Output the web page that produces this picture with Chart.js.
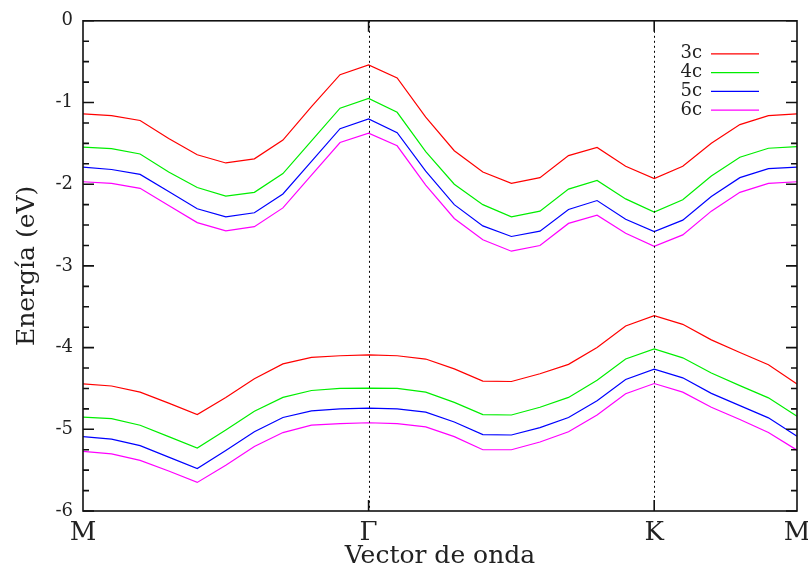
<!DOCTYPE html>
<html>
<head>
<meta charset="utf-8">
<script src="https://cdn.jsdelivr.net/npm/chart.js@4.4.0/dist/chart.umd.min.js"></script>
<style>
  html, body { margin: 0; padding: 0; background: #fff; }
  #wrap { width: 808px; height: 571px; }
</style>
</head>
<body>
<div id="wrap"><canvas id="bands"></canvas></div>
<script>
// k-path: M -> Γ -> K -> M, 26 points
const kLabels = ['M', '', '', '', '', '', '', '', '', '', 'Γ', '', '', '', '', '', '', '', '', '', 'K', '', '', '', '', 'M'];
const symIndex = [10, 20];

const bandNames = ['3c', '4c', '5c', '6c'];
const bandColors = ['#ff0000', '#00ee00', '#0000ff', '#ff00ff'];

// upper bands
const band3cHigh = [-1.14, -1.16, -1.22, -1.44, -1.64, -1.74, -1.69, -1.46, -1.05, -0.66, -0.54, -0.70, -1.18, -1.59, -1.85, -1.99, -1.92, -1.65, -1.55, -1.78, -1.93, -1.78, -1.50, -1.27, -1.16, -1.14];
const band4cHigh = [-1.545, -1.565, -1.63, -1.85, -2.04, -2.145, -2.10, -1.87, -1.47, -1.07, -0.95, -1.12, -1.60, -2.00, -2.25, -2.40, -2.33, -2.06, -1.955, -2.18, -2.34, -2.19, -1.90, -1.67, -1.56, -1.54];
const band5cHigh = [-1.79, -1.82, -1.88, -2.09, -2.30, -2.40, -2.35, -2.12, -1.72, -1.32, -1.20, -1.37, -1.84, -2.25, -2.51, -2.64, -2.575, -2.31, -2.20, -2.43, -2.58, -2.44, -2.15, -1.92, -1.81, -1.79];
const band6cHigh = [-1.97, -1.99, -2.05, -2.26, -2.47, -2.57, -2.52, -2.29, -1.89, -1.49, -1.375, -1.53, -2.01, -2.42, -2.68, -2.82, -2.75, -2.48, -2.38, -2.60, -2.76, -2.62, -2.33, -2.10, -1.99, -1.97];

// lower bands
const band3cLow = [-4.445, -4.47, -4.545, -4.68, -4.82, -4.61, -4.38, -4.20, -4.12, -4.10, -4.09, -4.10, -4.14, -4.26, -4.41, -4.415, -4.32, -4.205, -4.00, -3.735, -3.61, -3.715, -3.905, -4.06, -4.21, -4.445];
const band4cLow = [-4.85, -4.87, -4.95, -5.09, -5.23, -5.01, -4.78, -4.61, -4.525, -4.50, -4.495, -4.50, -4.545, -4.67, -4.82, -4.825, -4.73, -4.61, -4.40, -4.14, -4.015, -4.125, -4.31, -4.465, -4.615, -4.84];
const band5cLow = [-5.09, -5.12, -5.20, -5.34, -5.48, -5.26, -5.03, -4.855, -4.775, -4.75, -4.74, -4.75, -4.79, -4.91, -5.065, -5.07, -4.98, -4.855, -4.65, -4.39, -4.265, -4.37, -4.56, -4.71, -4.86, -5.085];
const band6cLow = [-5.27, -5.30, -5.38, -5.51, -5.65, -5.44, -5.21, -5.04, -4.95, -4.93, -4.92, -4.93, -4.97, -5.09, -5.25, -5.25, -5.155, -5.03, -4.825, -4.565, -4.44, -4.545, -4.73, -4.88, -5.04, -5.255];

const highBands = [band3cHigh, band4cHigh, band5cHigh, band6cHigh];
const lowBands = [band3cLow, band4cLow, band5cLow, band6cLow];

const serif = "'DejaVu Serif', 'Liberation Serif', serif";

const makeSet = (data, i) => ({
    label: bandNames[i],
    data: data,
    borderColor: bandColors[i],
    borderWidth: 1.2,
    pointRadius: 0,
    tension: 0,
    fill: false
});

const datasets = [];
highBands.forEach((d, i) => datasets.push(makeSet(d, i)));
lowBands.forEach((d, i) => datasets.push(makeSet(d, i)));

// frame, inward ticks, dotted lines at Γ and K, gnuplot style legend
const framePlugin = {
    id: 'frame',
    afterDraw(chart) {
        const ctx = chart.ctx;
        const { left, right, top, bottom } = chart.chartArea;
        const xs = chart.scales.x;
        const ys = chart.scales.y;
        ctx.save();

        ctx.strokeStyle = '#000';
        ctx.lineWidth = 1;
        ctx.setLineDash([2, 3]);
        symIndex.forEach(i => {
            const px = Math.round(xs.getPixelForValue(i)) + 0.5;
            ctx.beginPath();
            ctx.moveTo(px, top);
            ctx.lineTo(px, bottom);
            ctx.stroke();
        });
        ctx.setLineDash([]);

        ctx.strokeStyle = '#111';
        ctx.lineWidth = 1.6;
        for (let v = -6; v <= 0.001; v += 0.25) {
            const len = Math.abs(v - Math.round(v)) < 0.01 ? 11 : 6;
            const py = ys.getPixelForValue(v);
            ctx.beginPath();
            ctx.moveTo(left, py); ctx.lineTo(left + len, py);
            ctx.moveTo(right, py); ctx.lineTo(right - len, py);
            ctx.stroke();
        }
        symIndex.forEach(i => {
            const px = xs.getPixelForValue(i);
            ctx.beginPath();
            ctx.moveTo(px, top); ctx.lineTo(px, top + 11);
            ctx.moveTo(px, bottom); ctx.lineTo(px, bottom - 11);
            ctx.stroke();
        });
        ctx.strokeRect(left, top, right - left, bottom - top);

        ctx.font = '18px ' + serif;
        ctx.textAlign = 'right';
        ctx.textBaseline = 'middle';
        bandNames.forEach((name, i) => {
            const ly = top + 33 + i * 18.8;
            ctx.fillStyle = '#222';
            ctx.fillText(name, right - 95, ly);
            ctx.strokeStyle = bandColors[i];
            ctx.lineWidth = 1.2;
            ctx.beginPath();
            ctx.moveTo(right - 86, ly);
            ctx.lineTo(right - 38, ly);
            ctx.stroke();
        });
        ctx.restore();
    }
};

new Chart(document.getElementById('bands'), {
    type: 'line',
    data: { labels: kLabels, datasets: datasets },
    options: {
        responsive: true,
        maintainAspectRatio: false,
        animation: false,
        layout: { padding: { left: 0, right: 11, top: 18, bottom: 0 } },
        plugins: {
            legend: { display: false },
            tooltip: { enabled: false }
        },
        scales: {
            x: {
                grid: { display: false, drawTicks: false },
                border: { display: false },
                ticks: {
                    autoSkip: false,
                    maxRotation: 0,
                    padding: 7,
                    color: '#222',
                    font: { family: serif, size: 26 }
                },
                title: {
                    display: true,
                    text: 'Vector de onda',
                    color: '#222',
                    padding: { top: 0, bottom: 1 },
                    font: { family: serif, size: 25, lineHeight: 1.1 }
                },
                afterFit: s => { s.height = 60; s.paddingRight = 11; s.paddingLeft = 0; }
            },
            y: {
                min: -6,
                max: 0,
                grid: { display: false, drawTicks: false },
                border: { display: false },
                ticks: {
                    stepSize: 1,
                    padding: 10,
                    color: '#222',
                    font: { family: serif, size: 18 }
                },
                title: {
                    display: true,
                    text: 'Energía (eV)',
                    color: '#222',
                    padding: { top: 14, bottom: 0 },
                    font: { family: serif, size: 25, lineHeight: 1.1 }
                },
                afterFit: s => { s.width = 83; }
            }
        }
    },
    plugins: [framePlugin]
});
</script>
</body>
</html>
